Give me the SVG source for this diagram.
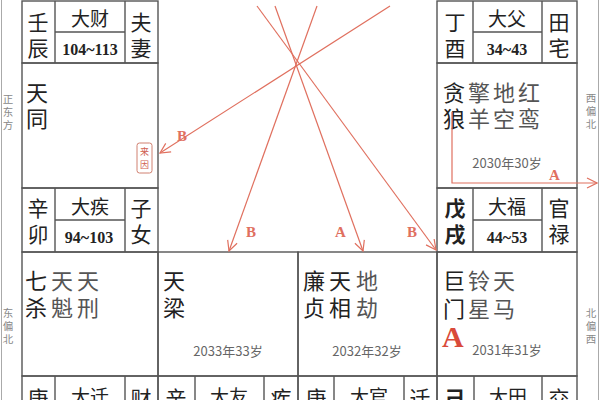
<svg xmlns="http://www.w3.org/2000/svg" width="600" height="400" viewBox="0 0 600 400">
<defs>
<style>
.g{fill:none;stroke:#555;stroke-width:1.4}
.f{fill:none;stroke:#aaa;stroke-width:1}
.cj{font-family:"Noto Sans CJK SC","Noto Sans",sans-serif;fill:#222}
.big{font-size:21px}
.mid{font-size:19px;text-anchor:middle}
.cen{text-anchor:middle}
.star{font-size:22px}
.gray{fill:#555}
.num{font-family:"Liberation Serif","DejaVu Serif",serif;font-weight:bold;font-size:16px;fill:#222;text-anchor:middle}
.yr{font-family:"Noto Sans CJK SC","Noto Sans",sans-serif;font-size:13px;fill:#666;text-anchor:middle}
.side{font-family:"Noto Sans CJK SC",sans-serif;font-size:10.5px;fill:#888;text-anchor:middle}
.ar{fill:none;stroke:#e0705f;stroke-width:1.2}
.lb{font-family:"Liberation Serif","DejaVu Serif",serif;font-weight:bold;font-size:15px;fill:#e0705f}
.bd{font-weight:bold}
</style>
<marker id="ah" viewBox="0 0 12 12" refX="11" refY="6" markerWidth="12" markerHeight="12" markerUnits="userSpaceOnUse" orient="auto">
<path d="M1,1 L11,6 L1,11" fill="none" stroke="#e0705f" stroke-width="1.2"/>
</marker>
</defs>
<rect width="600" height="400" fill="#fff"/>
<line class="f" x1="1.5" y1="0" x2="1.5" y2="400"/>
<line class="f" x1="598.5" y1="0" x2="598.5" y2="400"/>
<g id="side-labels">
<text class="side" x="8" y="103">正</text><text class="side" x="8" y="116">东</text><text class="side" x="8" y="129">方</text>
<text class="side" x="8" y="317">东</text><text class="side" x="8" y="330">偏</text><text class="side" x="8" y="343">北</text>
<text class="side" x="591" y="102">西</text><text class="side" x="591" y="115">偏</text><text class="side" x="591" y="128">北</text>
<text class="side" x="591" y="317">北</text><text class="side" x="591" y="330">偏</text><text class="side" x="591" y="343">西</text>
</g>
<g id="c-renchen">
<rect class="g" x="22" y="1" width="136" height="62"/>
<path class="g" d="M55,1V63M125,1V63M55,32H125"/>
<text class="cj big cen" x="38" y="30">壬</text><text class="cj big cen" x="38" y="56">辰</text>
<text class="cj mid" x="90" y="26">大财</text>
<text class="num" x="90" y="55">104~113</text>
<text class="cj big cen" x="141" y="30">夫</text><text class="cj big cen" x="141" y="56">妻</text>
</g>
<g id="c-tiantong">
<rect class="g" x="22" y="63" width="136" height="125"/>
<text class="cj star" x="26" y="101">天</text><text class="cj star" x="26" y="127">同</text>
<rect x="137" y="143" width="15" height="30" rx="2.5" fill="none" stroke="#d08070" stroke-width="1"/>
<text class="cj cen" x="144.5" y="155" font-size="9" style="fill:#d06050">来</text>
<text class="cj cen" x="144.5" y="168" font-size="9" style="fill:#d06050">因</text>
</g>
<g id="c-xinmao">
<rect class="g" x="22" y="188" width="136" height="64"/>
<path class="g" d="M55,188V252M125,188V252M55,220H125"/>
<text class="cj big cen" x="38" y="216">辛</text><text class="cj big cen" x="38" y="242">卯</text>
<text class="cj mid" x="90" y="214">大疾</text>
<text class="num" x="89" y="243">94~103</text>
<text class="cj big cen" x="141" y="216">子</text><text class="cj big cen" x="141" y="242">女</text>
</g>
<g id="c-qisha">
<rect class="g" x="22" y="252" width="136" height="124"/>
<text class="cj star" x="25" y="289">七</text><text class="cj star" x="25" y="316">杀</text>
<text class="cj star gray" x="51" y="289">天</text><text class="cj star gray" x="51" y="316">魁</text>
<text class="cj star gray" x="77" y="289">天</text><text class="cj star gray" x="77" y="316">刑</text>
</g>
<g id="c-tianliang">
<rect class="g" x="158" y="252" width="140" height="124"/>
<text class="cj star" x="163" y="289">天</text><text class="cj star" x="163" y="316">梁</text>
<text class="yr" x="228" y="356">2033年33岁</text>
</g>
<g id="c-lianzhen">
<rect class="g" x="298" y="252" width="139" height="124"/>
<text class="cj star" x="303" y="289">廉</text><text class="cj star" x="303" y="316">贞</text>
<text class="cj star" x="329" y="289">天</text><text class="cj star" x="329" y="316">相</text>
<text class="cj star gray" x="356" y="289">地</text><text class="cj star gray" x="356" y="316">劫</text>
<text class="yr" x="367" y="356">2032年32岁</text>
</g>
<g id="c-jumen">
<rect class="g" x="437" y="252" width="140" height="124"/>
<text class="cj star" x="443" y="289">巨</text><text class="cj star" x="443" y="317">门</text>
<text class="cj star gray" x="468" y="289">铃</text><text class="cj star gray" x="468" y="317">星</text>
<text class="cj star gray" x="493" y="289">天</text><text class="cj star gray" x="493" y="317">马</text>
<text x="442" y="347" font-family="Liberation Serif,DejaVu Serif,serif" font-weight="bold" font-size="30" fill="#d94a3a">A</text>
<text class="yr" x="507" y="355">2031年31岁</text>
</g>
<g id="c-dingyou">
<rect class="g" x="437" y="1" width="140" height="62"/>
<path class="g" d="M473,1V63M542,1V63M473,32H542"/>
<text class="cj big cen" x="455" y="30">丁</text><text class="cj big cen" x="455" y="56">酉</text>
<text class="cj mid" x="507" y="26">大父</text>
<text class="num" x="507" y="55">34~43</text>
<text class="cj big cen" x="559" y="30">田</text><text class="cj big cen" x="559" y="56">宅</text>
</g>
<g id="c-tanlang">
<rect class="g" x="437" y="63" width="140" height="125"/>
<text class="cj star" x="443" y="101">贪</text><text class="cj star" x="443" y="127">狼</text>
<text class="cj star gray" x="468" y="101">擎</text><text class="cj star gray" x="468" y="127">羊</text>
<text class="cj star gray" x="493" y="101">地</text><text class="cj star gray" x="493" y="127">空</text>
<text class="cj star gray" x="518" y="101">红</text><text class="cj star gray" x="518" y="127">鸾</text>
<text class="yr" x="507" y="168">2030年30岁</text>
</g>
<g id="c-wuxu">
<rect class="g" x="437" y="188" width="140" height="64"/>
<path class="g" d="M473,188V252M542,188V252M473,220H542"/>
<text class="cj big cen bd" x="455" y="216">戊</text><text class="cj big cen bd" x="455" y="242">戌</text>
<text class="cj mid" x="507" y="214">大福</text>
<text class="num" x="507" y="243">44~53</text>
<text class="cj big cen" x="559" y="216">官</text><text class="cj big cen" x="559" y="242">禄</text>
</g>
<g id="c-bottom-geng1">
<rect class="g" x="22" y="376" width="136" height="64"/>
<path class="g" d="M55,376V440M125,376V440"/>
<text class="cj big cen" x="38" y="406">庚</text>
<text class="cj mid" x="90" y="404">大迁</text>
<text class="cj big cen" x="141" y="406">财</text>
</g>
<g id="c-bottom-xin">
<rect class="g" x="158" y="376" width="140" height="64"/>
<path class="g" d="M195,376V440M264,376V440"/>
<text class="cj big cen" x="176" y="406">辛</text>
<text class="cj mid" x="229" y="404">大友</text>
<text class="cj big cen" x="281" y="406">疾</text>
</g>
<g id="c-bottom-geng2">
<rect class="g" x="298" y="376" width="139" height="64"/>
<path class="g" d="M334,376V440M404,376V440"/>
<text class="cj big cen" x="316" y="406">庚</text>
<text class="cj mid" x="369" y="404">大官</text>
<text class="cj big cen" x="420" y="406">迁</text>
</g>
<g id="c-bottom-ji">
<rect class="g" x="437" y="376" width="140" height="64"/>
<path class="g" d="M474,376V440M542,376V440"/>
<text class="cj big cen bd" x="455" y="406">己</text>
<text class="cj mid" x="508" y="404">大田</text>
<text class="cj big cen" x="559" y="406">交</text>
</g>
<g id="connectors">
<line class="ar" x1="390" y1="6" x2="160" y2="153" marker-end="url(#ah)"/>
<line class="ar" x1="317" y1="6" x2="229" y2="251" marker-end="url(#ah)"/>
<line class="ar" x1="275" y1="6" x2="363" y2="251" marker-end="url(#ah)"/>
<line class="ar" x1="257" y1="6" x2="436" y2="250" marker-end="url(#ah)"/>
<path class="ar" d="M452,112V183H597" marker-end="url(#ah)"/>
<text class="lb" x="177" y="141">B</text>
<text class="lb" x="246" y="237">B</text>
<text class="lb" x="335" y="237">A</text>
<text class="lb" x="407" y="237">B</text>
<text class="lb" x="549" y="180">A</text>
</g>
</svg>
